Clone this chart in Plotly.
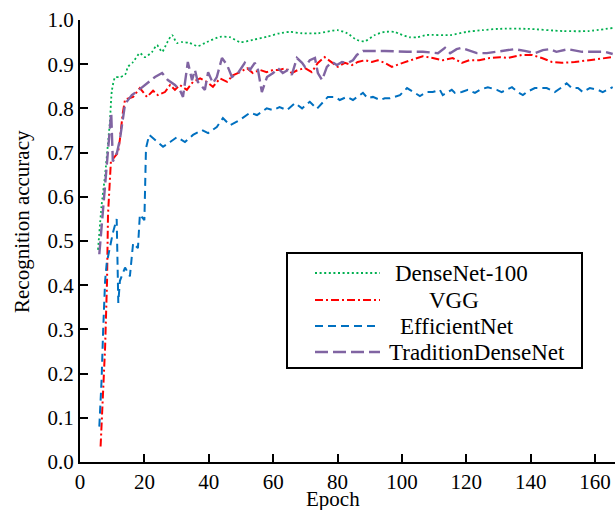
import plotly.graph_objects as go

# ---------------- data ----------------
dense_epoch = [5.6, 6.7, 7.8, 8.8, 9.3, 9.9, 10.9, 12.4, 14.0, 14.9,
               16.5, 18.6, 20.2, 22.4, 23.9, 25.5, 27.0, 28.6, 30.1, 31.7,
               34.0, 36.6, 39.4, 43.5, 46.6, 49.7, 53.7, 58, 62, 65.2,
               69, 74, 80, 83, 86, 88.5, 91.6, 94.7, 97.8, 99.4,
               102.5, 104.7, 107.8, 115, 120, 125, 130, 139, 150, 158,
               165.5]
dense_acc = [0.48, 0.58, 0.65, 0.73, 0.77, 0.84, 0.87, 0.871, 0.876, 0.894,
             0.905, 0.925, 0.916, 0.928, 0.943, 0.928, 0.948, 0.966, 0.948, 0.95,
             0.948, 0.941, 0.95, 0.962, 0.961, 0.95, 0.955, 0.962, 0.97, 0.973,
             0.97, 0.97, 0.977, 0.97, 0.955, 0.952, 0.966, 0.973, 0.973, 0.968,
             0.961, 0.961, 0.966, 0.966, 0.973, 0.977, 0.98, 0.98, 0.975, 0.975,
             0.982]

vgg_epoch = [6.4, 7.1, 7.8, 8.4, 8.7, 9.3, 9.6, 11.8, 12.4, 13.3,
             14.0, 16.5, 18.6, 20.8, 22.7, 24.2, 26.4, 28, 29.5, 31,
             33.2, 35.1, 37.3, 39.4, 41.3, 43.5, 45.7, 47.5, 49.7, 51.9,
             53.7, 55.9, 58, 60, 62, 63.7, 65.8, 67.7, 69.9, 72,
             73.9, 76, 78.3, 80.1, 82.3, 84.5, 86.3, 88.5, 90.7, 92.5,
             94.7, 96.9, 100.3, 104.7, 106.5, 109.6, 112.7, 115.8, 118.6, 121,
             124, 127.3, 130.4, 133, 137.3, 140.4, 143.5, 146.6, 149.7, 153.7,
             157.8, 162, 165.5]
vgg_acc = [0.035, 0.156, 0.26, 0.41, 0.56, 0.64, 0.68, 0.70, 0.73, 0.79,
           0.82, 0.826, 0.846, 0.826, 0.84, 0.83, 0.837, 0.853, 0.842, 0.853,
           0.842, 0.86, 0.868, 0.86, 0.849, 0.868, 0.86, 0.875, 0.882, 0.891,
           0.88, 0.887, 0.882, 0.887, 0.887, 0.891, 0.88, 0.887, 0.891, 0.882,
           0.903, 0.916, 0.903, 0.894, 0.903, 0.898, 0.905, 0.909, 0.905, 0.909,
           0.903, 0.894, 0.903, 0.914, 0.918, 0.914, 0.909, 0.914, 0.903, 0.909,
           0.909, 0.914, 0.916, 0.914, 0.921, 0.921, 0.914, 0.905, 0.903, 0.905,
           0.909, 0.914, 0.916]

eff_epoch = [6.0, 6.7, 7.2, 7.8, 8.3, 9.3, 10.2, 11.4, 11.9, 12.4,
             14.0, 15.5, 16.5, 18.0, 18.6, 20.0, 20.5, 21.5, 23.3, 25.8,
             28, 30.1, 32.6, 35.1, 37.9, 39.8, 42.5, 44.4, 46.6, 49.7,
             52.8, 55, 58, 60, 62, 64.3, 66.8, 69, 71.4, 73.6,
             77, 79.2, 80.7, 82.9, 84.8, 87.9, 89.4, 91, 93.2, 94.7,
             96.3, 99.4, 101.6, 104, 105.6, 107.8, 109.6, 111.8, 112.7, 115.5,
             116.5, 118.6, 120.5, 122.7, 124.2, 126.7, 129.5, 131, 134.2, 136,
             137.6, 138.8, 141.3, 145, 147.5, 149.7, 151.2, 152.8, 154.7, 156.2,
             158.4, 160.9, 162.4, 165.5]
eff_acc = [0.08, 0.185, 0.30, 0.41, 0.45, 0.487, 0.518, 0.55, 0.36, 0.41,
           0.44, 0.42, 0.495, 0.484, 0.56, 0.547, 0.71, 0.74, 0.729, 0.713,
           0.724, 0.735, 0.724, 0.74, 0.751, 0.744, 0.758, 0.778, 0.762, 0.774,
           0.79, 0.785, 0.80, 0.796, 0.803, 0.796, 0.812, 0.80, 0.815, 0.799,
           0.826, 0.826, 0.819, 0.826, 0.819, 0.835, 0.823, 0.826, 0.819, 0.823,
           0.823, 0.83, 0.846, 0.835, 0.828, 0.837, 0.837, 0.842, 0.83, 0.842,
           0.835, 0.837, 0.842, 0.835, 0.842, 0.848, 0.842, 0.837, 0.848, 0.837,
           0.83, 0.837, 0.846, 0.846, 0.837, 0.848, 0.857, 0.846, 0.846, 0.837,
           0.846, 0.842, 0.837, 0.848]

trad_epoch = [6.0, 7.0, 8.3, 9.7, 10.2, 11.5, 12.4, 14.0, 16.1, 18.0,
              20.8, 23.3, 25.5, 27.3, 29.5, 31, 32, 33.5, 34.8, 35.7,
              36.6, 38.8, 39.8, 41.3, 42.5, 44.1, 45.7, 47.2, 49.1, 51.2,
              52.8, 54.3, 55.3, 56.5, 58.1, 60, 61.5, 63, 64.6, 65.8,
              67.4, 69, 69.9, 71.4, 73, 73.9, 75.2, 76.7, 78.3, 79.8,
              81.4, 83.2, 84.8, 86, 87.9, 94.7, 101.6, 106.5, 111.2, 113.4,
              115, 117, 118.6, 120.5, 123.3, 126.4, 129.5, 132, 135, 138.2,
              141.3, 143.8, 146, 148, 150, 151.6, 156, 160, 163, 165.5]
trad_acc = [0.47, 0.55, 0.67, 0.79, 0.68, 0.70, 0.73, 0.81, 0.83, 0.84,
            0.857, 0.871, 0.88, 0.864, 0.853, 0.842, 0.826, 0.905, 0.864, 0.887,
            0.86, 0.842, 0.882, 0.857, 0.871, 0.914, 0.898, 0.871, 0.88, 0.903,
            0.887, 0.903, 0.887, 0.837, 0.871, 0.88, 0.891, 0.88, 0.887, 0.876,
            0.914, 0.903, 0.894, 0.909, 0.914, 0.88, 0.864, 0.894, 0.905, 0.898,
            0.905, 0.903, 0.909, 0.921, 0.93, 0.93, 0.928, 0.928, 0.925, 0.937,
            0.925, 0.934, 0.937, 0.932, 0.925, 0.925, 0.928, 0.932, 0.934, 0.93,
            0.925, 0.932, 0.934, 0.928, 0.932, 0.934, 0.928, 0.928, 0.928, 0.923]

series_names = ["DenseNet-100", "VGG", "EfficientNet", "TraditionDenseNet"]
x_ticks = [0, 20, 40, 60, 80, 100, 120, 140, 160]
y_ticks = [0.0, 0.1, 0.2, 0.3, 0.4, 0.5, 0.6, 0.7, 0.8, 0.9, 1.0]

# ---------------- styles ----------------
FONT = "Liberation Serif"
styles = [
    dict(color="#00b050", width=1.8, dash="2px,2.6px", shape="spline"),
    dict(color="#ff0000", width=2.0, dash="8px,3px,2px,3px", shape="linear"),
    dict(color="#0070c0", width=2.0, dash="8px,5px", shape="linear"),
    dict(color="#8064a2", width=2.4, dash="13px,5px", shape="linear"),
]
data = [(dense_epoch, dense_acc), (vgg_epoch, vgg_acc),
        (eff_epoch, eff_acc), (trad_epoch, trad_acc)]

fig = go.Figure()
for (xs, ys), name, st in zip(data, series_names, styles):
    assert len(xs) == len(ys), name
    fig.add_trace(go.Scatter(
        x=xs, y=ys, name=name, mode="lines",
        line=dict(color=st["color"], width=st["width"], dash=st["dash"],
                  shape=st["shape"], smoothing=0.6 if st["shape"] == "spline" else None),
        showlegend=False, hoverinfo="skip"))

W, H = 615, 510
# plot area in page pixels: x 80..615, y 20..462
L, R, T, B = 80, 615, 20, 462
def px(x):
    return (x - L) / (R - L)
def py(y):
    return (B - y) / (B - T)

shapes = [dict(type="rect", xref="paper", yref="paper",
               x0=px(287), x1=px(582), y0=py(253), y1=py(368),
               line=dict(color="black", width=2), fillcolor="white", layer="above")]
annotations = []
rows_y = [273, 300, 326, 352]
text_x = [393, 427, 398, 387]
for name, st, ry, tx in zip(series_names, styles, rows_y, text_x):
    shapes.append(dict(type="line", xref="paper", yref="paper",
                       x0=px(315), x1=px(380), y0=py(ry), y1=py(ry),
                       line=dict(color=st["color"], width=st["width"], dash=st["dash"]),
                       layer="above"))
    annotations.append(dict(xref="paper", yref="paper", x=px(tx), y=py(ry),
                            xanchor="left", yanchor="middle", text=name, showarrow=False,
                            font=dict(family=FONT, size=23, color="black")))

annotations.append(dict(xref="paper", yref="paper", x=px(333), y=py(499),
                        xanchor="center", yanchor="middle", text="Epoch", showarrow=False,
                        font=dict(family=FONT, size=21, color="black")))
annotations.append(dict(xref="paper", yref="paper", x=px(22), y=py(222),
                        xanchor="center", yanchor="middle", text="Recognition accuracy",
                        textangle=-90, showarrow=False,
                        font=dict(family=FONT, size=21, color="black")))

fig.update_layout(
    width=W, height=H,
    margin=dict(l=L, r=W - R, t=T, b=H - B, pad=0),
    paper_bgcolor="white", plot_bgcolor="white",
    font=dict(family=FONT, size=21, color="black"),
    shapes=shapes, annotations=annotations,
    showlegend=False, hovermode=False,
)
fig.update_xaxes(range=[0, (R - L) / ((595 - 80) / 160)], tickvals=x_ticks,
                 ticks="inside", ticklen=8, tickwidth=2, tickcolor="black",
                 showline=True, linewidth=2, linecolor="black",
                 showgrid=False, zeroline=False,
                 tickfont=dict(family=FONT, size=21, color="black"))
fig.update_yaxes(range=[0, 1.0], tickvals=y_ticks, tickformat=".1f",
                 ticks="inside", ticklen=8, tickwidth=2, tickcolor="black",
                 showline=True, linewidth=2, linecolor="black",
                 showgrid=False, zeroline=False,
                 tickfont=dict(family=FONT, size=21, color="black"))

fig.write_html("out.html",
               config={"displayModeBar": False},
               post_script="document.body.style.margin='0';"
                           "document.documentElement.style.overflow='hidden';")
